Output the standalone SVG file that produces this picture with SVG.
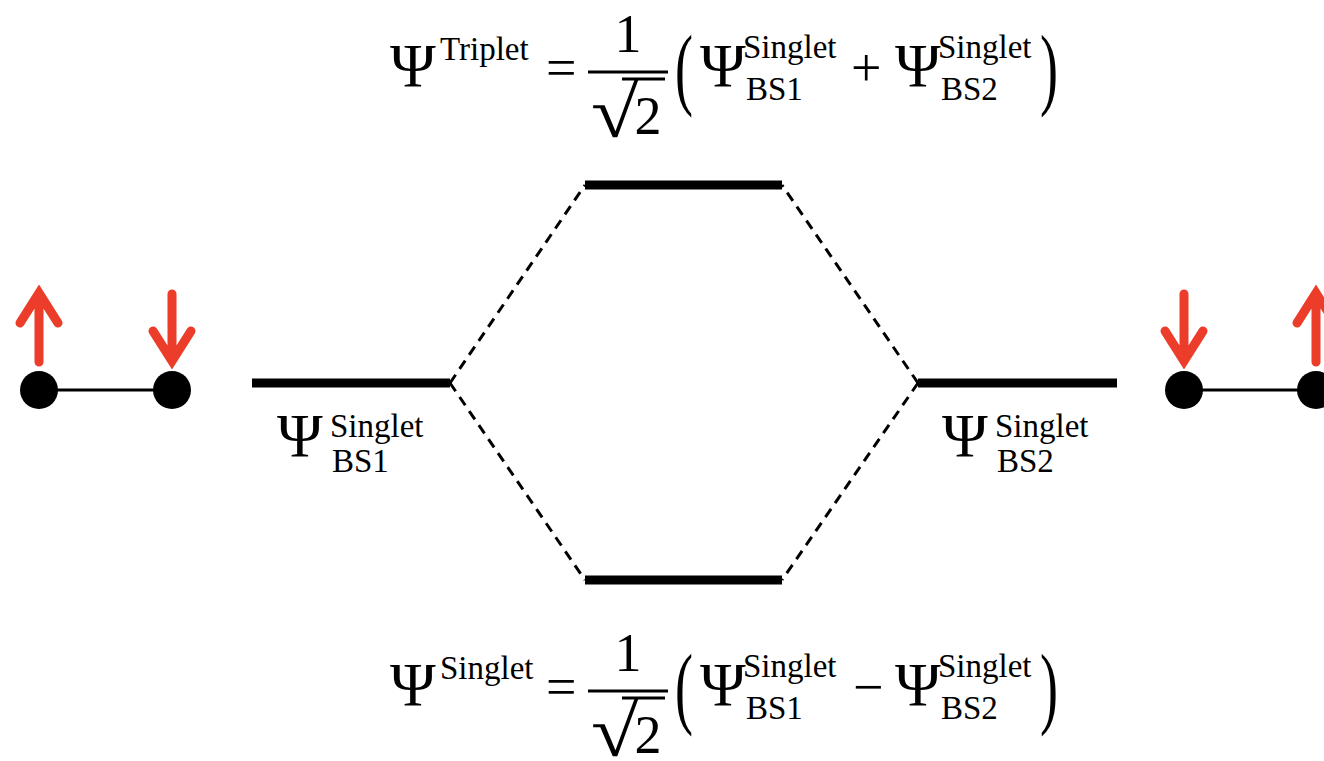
<svg xmlns="http://www.w3.org/2000/svg" width="1324" height="761" viewBox="0 0 1324 761">
<defs>
<style>
text{font-family:"Liberation Serif","DejaVu Serif",serif;fill:#000}
.psi{font-size:62px}
.sup{font-size:33px}
.op{font-size:54px}
.num{font-size:54px}
.rad{font-size:72px}
.level{stroke:#000;stroke-width:9;fill:none}
.dash{stroke:#000;stroke-width:3;stroke-dasharray:10 7;fill:none}
.bond{stroke:#000;stroke-width:3}
.atom{fill:#000}
.spin{stroke:#ec3d2a;stroke-width:9;fill:none;stroke-linecap:round;stroke-linejoin:miter}
.bar{stroke:#000;stroke-width:3}
</style>
</defs>
<rect width="1324" height="761" fill="#fff"/>

<g id="eq-triplet">
<text class="psi" x="390" y="86">Ψ</text>
<text class="sup" x="440" y="60">Triplet</text>
<text class="op" x="546" y="86">=</text>
<text class="num" x="628" y="52" text-anchor="middle">1</text>
<line class="bar" x1="588" y1="72" x2="668" y2="72"/>
<text class="rad" transform="translate(591,137) scale(1.2,1)">√</text>
<line class="bar" x1="622" y1="79" x2="665" y2="79"/>
<text class="num" x="648" y="134" text-anchor="middle">2</text>
<text class="op" transform="translate(675,98) scale(1,1.7)" font-size="56">(</text>
<text class="psi" x="700" y="86">Ψ</text>
<text class="sup" x="743" y="58">Singlet</text>
<text class="sup" x="746" y="100">BS1</text>
<text class="op" x="851" y="86">+</text>
<text class="psi" x="895" y="86">Ψ</text>
<text class="sup" x="938" y="58">Singlet</text>
<text class="sup" x="941" y="100">BS2</text>
<text class="op" transform="translate(1040,98) scale(1,1.7)" font-size="56">)</text>
</g>

<g id="eq-singlet" transform="translate(0,619)">
<text class="psi" x="390" y="86">Ψ</text>
<text class="sup" x="440" y="60">Singlet</text>
<text class="op" x="546" y="86">=</text>
<text class="num" x="628" y="52" text-anchor="middle">1</text>
<line class="bar" x1="588" y1="72" x2="668" y2="72"/>
<text class="rad" transform="translate(591,137) scale(1.2,1)">√</text>
<line class="bar" x1="622" y1="79" x2="665" y2="79"/>
<text class="num" x="648" y="134" text-anchor="middle">2</text>
<text class="op" transform="translate(675,98) scale(1,1.7)" font-size="56">(</text>
<text class="psi" x="700" y="86">Ψ</text>
<text class="sup" x="743" y="58">Singlet</text>
<text class="sup" x="746" y="100">BS1</text>
<text class="op" x="853" y="86">−</text>
<text class="psi" x="895" y="86">Ψ</text>
<text class="sup" x="938" y="58">Singlet</text>
<text class="sup" x="941" y="100">BS2</text>
<text class="op" transform="translate(1040,98) scale(1,1.7)" font-size="56">)</text>
</g>

<g id="connectors">
<line class="dash" x1="450" y1="383" x2="585" y2="185"/>
<line class="dash" x1="450" y1="383" x2="585" y2="580"/>
<line class="dash" x1="918" y1="383" x2="782" y2="185"/>
<line class="dash" x1="918" y1="383" x2="782" y2="580"/>
</g>

<g id="level-triplet"><line class="level" x1="585" y1="185" x2="782" y2="185"/></g>
<g id="level-singlet"><line class="level" x1="585" y1="580" x2="782" y2="580"/></g>
<g id="level-bs1">
<line class="level" x1="252" y1="383" x2="450" y2="383"/>
<text class="psi" x="277" y="456">Ψ</text>
<text class="sup" x="330" y="437">Singlet</text>
<text class="sup" x="332" y="472">BS1</text>
</g>
<g id="level-bs2">
<line class="level" x1="918" y1="383" x2="1117" y2="383"/>
<text class="psi" x="942" y="456">Ψ</text>
<text class="sup" x="995" y="437">Singlet</text>
<text class="sup" x="997" y="472">BS2</text>
</g>

<g id="molecule-bs1">
<line class="bond" x1="39" y1="390" x2="172" y2="390"/>
<circle class="atom" cx="39" cy="390" r="19"/>
<circle class="atom" cx="172" cy="390" r="19"/>
<path class="spin" d="M39 362V296M20 323L39 293L58 323"/>
<path class="spin" d="M172 294V358M153 331L172 361L191 331"/>
</g>

<g id="molecule-bs2">
<line class="bond" x1="1184" y1="390" x2="1316" y2="390"/>
<circle class="atom" cx="1184" cy="390" r="19"/>
<circle class="atom" cx="1316" cy="390" r="19"/>
<path class="spin" d="M1184 294V358M1165 331L1184 361L1203 331"/>
<path class="spin" d="M1316 362V296M1297 323L1316 293L1335 323"/>
</g>
</svg>
